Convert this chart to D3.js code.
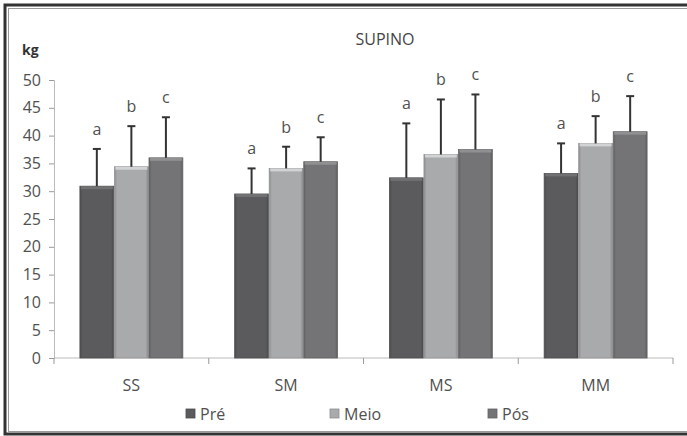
<!DOCTYPE html>
<html><head><meta charset="utf-8">
<script src="https://cdn.jsdelivr.net/npm/d3@7"></script>
<style>body{margin:0;background:#fff}svg{display:block}</style>
</head><body>
<script>
const categories = ["SS","SM","MS","MM"];
const seriesNames = ["Pré","Meio","Pós"];
const pre  = [30.9, 29.5, 32.4, 33.2];
const meio = [34.4, 34.1, 36.6, 38.6];
const pos  = [36.0, 35.3, 37.5, 40.7];
const preErr  = [6.7, 4.6, 9.8, 5.4];
const meioErr = [7.3, 3.9, 9.9, 4.9];
const posErr  = [7.3, 4.4, 9.9, 6.4];
const letters = ["a","b","c"];
const yTicks = [0,5,10,15,20,25,30,35,40,45,50];
const title = "SUPINO";
const yLabel = "kg";

const W=687,H=436;
const svg=d3.select("body").append("svg").attr("width",W).attr("height",H);
const font="'Open Sans', 'Liberation Sans', sans-serif";
const colors=["#5b5b5d","#a9aaac","#747476"];
const textCol="#505050";

// frame
svg.append("rect").attr("x",5).attr("y",5).attr("width",W+10).attr("height",429).attr("fill","none").attr("stroke","#333").attr("stroke-width",3);
svg.append("rect").attr("x",8.5).attr("y",8.5).attr("width",W+10).attr("height",423).attr("fill","none").attr("stroke","#999").attr("stroke-width",1);

const defs=svg.append("defs");
colors.forEach((c,i)=>{
  const g=defs.append("linearGradient").attr("id","g"+i).attr("x1",0).attr("x2",1).attr("y1",0).attr("y2",0);
  const cc=d3.color(c);
  g.append("stop").attr("offset","0%").attr("stop-color",cc.darker(0.5));
  g.append("stop").attr("offset","8%").attr("stop-color",cc);
  g.append("stop").attr("offset","92%").attr("stop-color",cc);
  g.append("stop").attr("offset","100%").attr("stop-color",cc.darker(0.6));
});

const x0=d3.scaleBand().domain(categories).range([54,673]).paddingInner(0).paddingOuter(0);
const y=d3.scaleLinear().domain([0,50]).range([358,80]);
const inner=d3.scaleBand().domain(seriesNames).range([0,x0.bandwidth()]).paddingInner(0.02).paddingOuter(0.75);

// axes
const ya=svg.append("g").attr("transform","translate(54,0)").call(d3.axisLeft(y).tickValues(yTicks).tickSize(5).tickPadding(8));
ya.select(".domain").attr("stroke","#bbb");
ya.selectAll(".tick line").attr("stroke","#999");
ya.selectAll(".tick text").attr("fill",textCol).attr("font-size",16).attr("font-family",font);

const xa=svg.append("g").attr("transform","translate(0,358)");
xa.append("line").attr("x1",54).attr("x2",673).attr("stroke","#bbb");
const bounds=categories.map(c=>x0(c)).concat([673]);
xa.selectAll("line.t").data(bounds).join("line").attr("class","t").attr("x1",d=>d).attr("x2",d=>d).attr("y1",0).attr("y2",6).attr("stroke","#999");
xa.selectAll("text").data(categories).join("text").attr("x",d=>x0(d)+x0.bandwidth()/2).attr("y",33).attr("text-anchor","middle").attr("fill",textCol).attr("font-size",16).attr("font-family",font).text(d=>d);

const vals=[pre,meio,pos], errs=[preErr,meioErr,posErr];
seriesNames.forEach((s,si)=>{
  const g=svg.append("g");
  categories.forEach((c,ci)=>{
    const v=vals[si][ci], e=errs[si][ci];
    const bx=x0(c)+inner(s), bw=inner.bandwidth(), cx=bx+bw/2;
    g.append("rect").attr("x",bx).attr("y",y(v)).attr("width",bw).attr("height",y(0)-y(v)).attr("fill",`url(#g${si})`).attr("stroke",d3.color(colors[si]).darker(0.4)).attr("stroke-width",0.8);
    g.append("rect").attr("x",bx+1).attr("y",y(v)).attr("width",bw-2).attr("height",3).attr("fill",d3.color(colors[si]).brighter(0.6));
    g.append("line").attr("x1",cx).attr("x2",cx).attr("y1",y(v)).attr("y2",y(v+e)).attr("stroke","#333").attr("stroke-width",2);
    g.append("line").attr("x1",cx-4).attr("x2",cx+4).attr("y1",y(v+e)).attr("y2",y(v+e)).attr("stroke","#333").attr("stroke-width",2);
    g.append("text").attr("x",cx).attr("y",y(v+e)-14).attr("text-anchor","middle").attr("fill",textCol).attr("font-size",16).attr("font-family",font).text(letters[si]);
  });
});

svg.append("text").attr("x",385).attr("y",45).attr("text-anchor","middle").attr("fill","#444").attr("font-size",16).attr("font-family",font).text(title);
svg.append("text").attr("x",22).attr("y",55).attr("fill","#333").attr("font-size",14).attr("font-weight","bold").attr("font-family",font).text(yLabel);

// legend
const legX=[186,330,488];
seriesNames.forEach((s,i)=>{
  svg.append("rect").attr("x",legX[i]).attr("y",409).attr("width",9).attr("height",9).attr("fill",colors[i]).attr("stroke",d3.color(colors[i]).darker(0.5)).attr("stroke-width",0.8);
  svg.append("text").attr("x",legX[i]+14).attr("y",420).attr("fill",textCol).attr("font-size",16).attr("font-family",font).text(s);
});
</script>
</body></html>
